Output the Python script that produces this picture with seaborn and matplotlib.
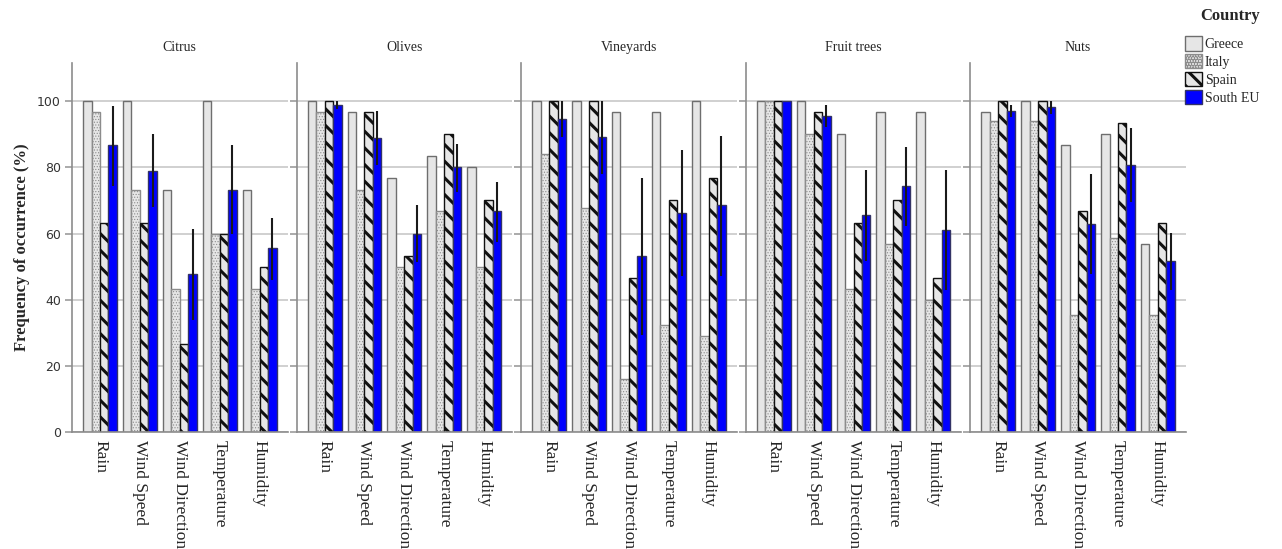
import pandas as pd
import matplotlib
matplotlib.use('Agg')
import matplotlib.pyplot as plt
from matplotlib.patches import Patch
import seaborn as sns

# Données (%), une ligne par culture
crops = ['Citrus', 'Olives', 'Vineyards', 'Fruit trees', 'Nuts']
factors = ['Rain', 'Wind Speed', 'Wind Direction', 'Temperature', 'Humidity']
countries = ['Greece', 'Italy', 'Spain', 'South EU']

greece = [[100, 100, 73.3, 100, 73.3],
          [100, 96.7, 76.7, 83.3, 80],
          [100, 100, 96.7, 96.7, 100],
          [100, 100, 90, 96.7, 96.7],
          [96.7, 100, 86.7, 90, 56.7]]
italy = [[96.7, 73.3, 43.3, 60, 43.3],
         [96.7, 73.3, 50, 66.7, 50],
         [83.9, 67.7, 16.1, 32.3, 29.0],
         [100, 90, 43.3, 56.7, 40],
         [94.1, 94.1, 35.3, 58.8, 35.3]]
spain = [[63.3, 63.3, 26.7, 60, 50],
         [100, 96.7, 53.3, 90, 70],
         [100, 100, 46.7, 70, 76.7],
         [100, 96.7, 63.3, 70, 46.7],
         [100, 100, 66.7, 93.3, 63.3]]
south_eu = [[86.7, 78.9, 47.8, 73.3, 55.6],
            [98.9, 88.9, 60, 80, 66.7],
            [94.6, 89.2, 53.1, 66.3, 68.6],
            [100, 95.6, 65.6, 74.4, 61.1],
            [96.9, 98.1, 62.8, 80.7, 51.8]]
# intervalles d'erreur pour South EU
seu_low = [[74.5, 67.9, 33.9, 59.8, 46.1],
           [97.6, 80.8, 51.4, 72.7, 57.4],
           [89.1, 78.1, 29.4, 47.3, 47.3],
           [100, 92.3, 51.8, 62.4, 42.9],
           [95.2, 96.0, 47.7, 69.5, 42.9]]
seu_high = [[98.5, 90.0, 61.4, 86.7, 64.8],
            [100, 96.9, 68.6, 87.1, 75.6],
            [100, 100, 76.7, 85.1, 89.5],
            [100, 98.7, 79.3, 86.3, 79.3],
            [98.7, 100, 78.0, 91.8, 60.2]]

rows = []
for ci, crop in enumerate(crops):
    for fi, fac in enumerate(factors):
        for country, vals in zip(countries, [greece, italy, spain, south_eu]):
            rows.append({'crop': crop, 'factor': fac, 'country': country, 'value': vals[ci][fi]})
df = pd.DataFrame(rows)

# style des barres par pays
styles = {
    'Greece':   dict(face='#e6e6e6', edge='#6e6e6e', hatch=None, hlw=1.0),
    'Italy':    dict(face='#e6e6e6', edge='#8c8c8c', hatch='......', hlw=0.5),
    'Spain':    dict(face='#e6e6e6', edge='#111111', hatch='\\\\', hlw=2.2),
    'South EU': dict(face='#0000ff', edge='#333366', hatch=None, hlw=1.0),
}
palette = {k: v['face'] for k, v in styles.items()}

sns.set_theme(style='white')
plt.rcParams['font.family'] = ['Liberation Serif', 'DejaVu Serif']
plt.rcParams['hatch.linewidth'] = 2.2

fig, axes = plt.subplots(1, 5, figsize=(12.82, 5.49), dpi=100, sharey=True)
fig.subplots_adjust(left=0.0562, right=0.925, bottom=0.213, top=0.885, wspace=0.042)

for ci, (ax, crop) in enumerate(zip(axes, crops)):
    sub = df[df['crop'] == crop]
    sns.barplot(data=sub, x='factor', y='value', hue='country', order=factors,
                hue_order=countries, palette=palette, width=0.85, gap=0,
                errorbar=None, legend=False, ax=ax, linewidth=1.0, saturation=1)
    for cont, country in zip(ax.containers, countries):
        st = styles[country]
        for bar in cont:
            bar.set_edgecolor(st['edge'])
            if st['hatch']:
                bar.set_hatch(st['hatch'])
                if hasattr(bar, 'set_hatch_linewidth'):
                    bar.set_hatch_linewidth(st['hlw'])
    # barres d'erreur South EU
    seu = ax.containers[3]
    xs = [b.get_x() + b.get_width() / 2 for b in seu]
    ax.vlines(xs, seu_low[ci], seu_high[ci], color='#1a1a1a', lw=1.5, zorder=5)

    ax.set_xlim(-0.7, 4.7)
    ax.set_ylim(0, 111.5)
    ax.set_yticks(range(0, 101, 20))
    ax.grid(axis='y', color='#c8c8c8', lw=1.2)
    ax.set_axisbelow(True)
    ax.set_xlabel('')
    ax.set_ylabel('')
    ax.set_title(crop, fontsize=10, pad=9)
    for s in ['top', 'right']:
        ax.spines[s].set_visible(False)
    for s in ['left', 'bottom']:
        ax.spines[s].set_color('#8c8c8c')
        ax.spines[s].set_linewidth(1.2)
    ax.tick_params(axis='x', length=0, labelsize=12.5, labelrotation=-90, pad=6)
    ax.tick_params(axis='y', length=5, color='#a0a0a0', left=True, labelsize=9,
                   labelcolor='#333333', labelfontfamily='DejaVu Sans', pad=3)
    for lbl in ax.get_xticklabels():
        lbl.set_verticalalignment('top')
        lbl.set_horizontalalignment('center')

axes[0].set_ylabel('Frequency of occurrence (%)', fontsize=12, fontweight='bold', labelpad=5)

handles = []
for country in countries:
    st = styles[country]
    h = Patch(facecolor=st['face'], edgecolor=st['edge'], hatch=st['hatch'], linewidth=1.0)
    handles.append(h)
fig.text(1230 / 1282, 1 - 16 / 549, 'Country', fontsize=12, fontweight='bold',
         ha='center', va='center')
fig.legend(handles, countries, loc='upper left',
           bbox_to_anchor=(1177 / 1282, 1 - 28 / 549), frameon=False,
           prop={'size': 10}, handlelength=1.2, handleheight=1.2, handletextpad=0.2,
           labelspacing=0.22, borderaxespad=0.2)

fig.savefig('out.png', dpi=100)
